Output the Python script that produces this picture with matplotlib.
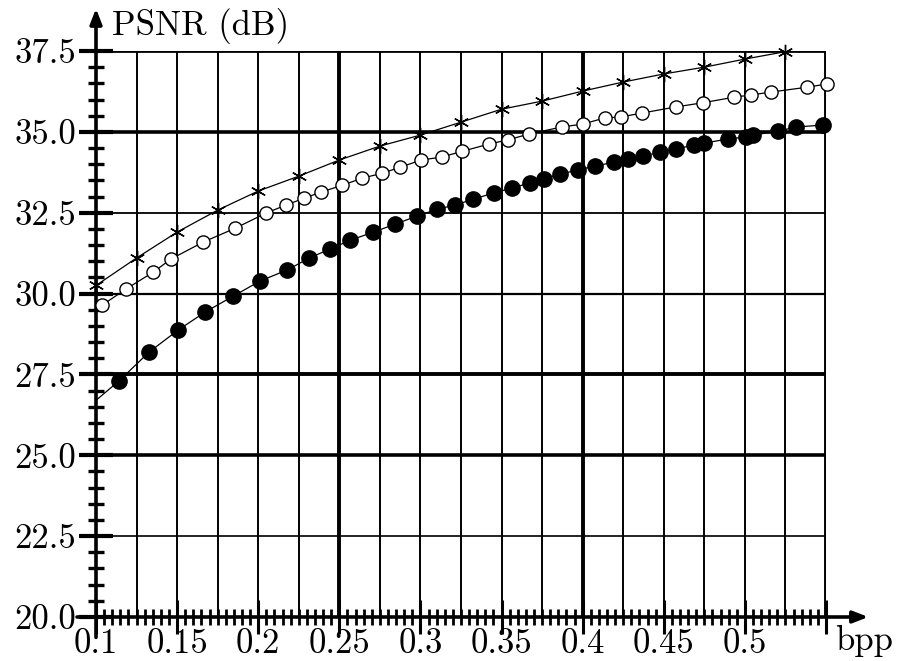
import matplotlib
matplotlib.use("Agg")
import matplotlib.pyplot as plt
from matplotlib.ticker import MultipleLocator

plt.rcParams["font.family"] = ["cmr10", "DejaVu Serif"]

# asterisk series
star_x = [0.1, 0.125, 0.15, 0.175, 0.2, 0.225, 0.25, 0.275, 0.3, 0.325,
          0.35, 0.375, 0.4, 0.425, 0.45, 0.475, 0.5, 0.525]
star_y = [30.25, 31.10, 31.90, 32.58, 33.17, 33.63, 34.13, 34.56, 34.90, 35.30,
          35.70, 35.95, 36.26, 36.54, 36.79, 37.00, 37.25, 37.48]

# open circle series
open_x = [0.1037, 0.1185, 0.1352, 0.1463, 0.1660, 0.1858, 0.2049, 0.2173,
          0.2284, 0.2389, 0.2519, 0.2642, 0.2765, 0.2877, 0.3006, 0.3130,
          0.3259, 0.3420, 0.3537, 0.3667, 0.3870, 0.4000, 0.4136, 0.4235,
          0.4364, 0.4574, 0.4741, 0.4932, 0.5037, 0.5160, 0.5383, 0.5506]
open_y = [29.64, 30.14, 30.66, 31.07, 31.59, 32.02, 32.49, 32.74,
          32.95, 33.14, 33.35, 33.57, 33.72, 33.91, 34.13, 34.22,
          34.40, 34.62, 34.75, 34.93, 35.15, 35.24, 35.43, 35.46,
          35.58, 35.77, 35.90, 36.07, 36.14, 36.23, 36.38, 36.48]

# filled circle series (first point is where the curve leaves the axis)
fill_x = [0.1, 0.1142, 0.1327, 0.1506, 0.1673, 0.1846, 0.2012, 0.2179, 0.2315,
          0.2444, 0.2568, 0.2710, 0.2846, 0.2981, 0.3105, 0.3216, 0.3327,
          0.3451, 0.3562, 0.3673, 0.3759, 0.3858, 0.3969, 0.4074, 0.4191,
          0.4278, 0.4370, 0.4475, 0.4574, 0.4685, 0.4747, 0.4895, 0.5006,
          0.5049, 0.5204, 0.5315, 0.5481]
fill_y = [26.70, 27.30, 28.19, 28.87, 29.43, 29.92, 30.39, 30.73, 31.10,
          31.38, 31.65, 31.90, 32.15, 32.40, 32.61, 32.74, 32.92,
          33.11, 33.26, 33.42, 33.54, 33.69, 33.82, 33.94, 34.06,
          34.16, 34.25, 34.37, 34.47, 34.59, 34.65, 34.78, 34.84,
          34.90, 35.02, 35.15, 35.21]

x_ticks = [0.1, 0.15, 0.2, 0.25, 0.3, 0.35, 0.4, 0.45, 0.5, 0.55]
x_labels = ["0.1", "0.15", "0.2", "0.25", "0.3", "0.35", "0.4", "0.45", "0.5", ""]
y_ticks = [20.0, 22.5, 25.0, 27.5, 30.0, 32.5, 35.0, 37.5]
y_labels = ["20.0", "22.5", "25.0", "27.5", "30.0", "32.5", "35.0", "37.5"]

fig = plt.figure(figsize=(8.98, 6.61), dpi=100)
ax = fig.add_axes([96 / 898, 44 / 661, 730 / 898, 566 / 661])
ax.set_xlim(0.1, 0.55)
ax.set_ylim(20, 37.5)
for s in ax.spines.values():
    s.set_visible(False)

# grid
thick_v = {0.25, 0.4, 0.55}
for i in range(1, 19):
    v = round(0.1 + 0.025 * i, 3)
    ax.axvline(v, color="black", lw=2.8 if v in thick_v else 1.4, zorder=1)
h_widths = {22.5: 1.2, 25.0: 2.6, 27.5: 2.8, 30.0: 1.6, 32.5: 1.3, 35.0: 2.6, 37.5: 2.0}
for v, w in h_widths.items():
    ax.axhline(v, color="black", lw=w, zorder=1)

# axes with arrows
ax.annotate("", xy=(1.058, 0), xytext=(-0.026, 0), xycoords="axes fraction",
            arrowprops=dict(arrowstyle="-|>,head_length=0.9,head_width=0.35",
                            lw=2.6, color="black", shrinkA=0, shrinkB=0))
ax.annotate("", xy=(0, 1.075), xytext=(0, -0.036), xycoords="axes fraction",
            arrowprops=dict(arrowstyle="-|>,head_length=0.9,head_width=0.35",
                            lw=2.6, color="black", shrinkA=0, shrinkB=0))

# series
ax.plot(star_x, star_y, color="black", lw=0.9, marker=(6, 2, 0), ms=11, mew=1.0,
        zorder=3, clip_on=False)
ax.plot(open_x, open_y, color="black", lw=0.9, marker="o", ms=9.5, mfc="white",
        mec="black", mew=1.0, zorder=3, clip_on=False)
ax.plot(fill_x, fill_y, color="black", lw=0.9, marker="o", ms=11, mfc="black",
        mec="black", markevery=list(range(1, len(fill_x))), zorder=3, clip_on=False)

# ticks
ax.set_xticks(x_ticks, x_labels)
ax.set_yticks(y_ticks, y_labels)
ax.xaxis.set_minor_locator(MultipleLocator(0.005))
ax.yaxis.set_minor_locator(MultipleLocator(0.5))
ax.tick_params(axis="x", which="major", direction="inout", length=24, width=2.2,
               labelsize=25, pad=-4.0)
ax.tick_params(axis="x", which="minor", direction="inout", length=11.5, width=2.0)
ax.tick_params(axis="y", which="major", direction="inout", length=25, width=3.0,
               labelsize=25, pad=2)
ax.tick_params(axis="y", which="minor", direction="inout", length=12, width=2.4)

ax.text(0.022, 1.012, "PSNR (dB)", transform=ax.transAxes, fontsize=25,
        ha="left", va="bottom")
ax.text(1.013, -0.059, "bpp", transform=ax.transAxes, fontsize=25,
        ha="left", va="baseline")

fig.savefig("out.png", dpi=100)
